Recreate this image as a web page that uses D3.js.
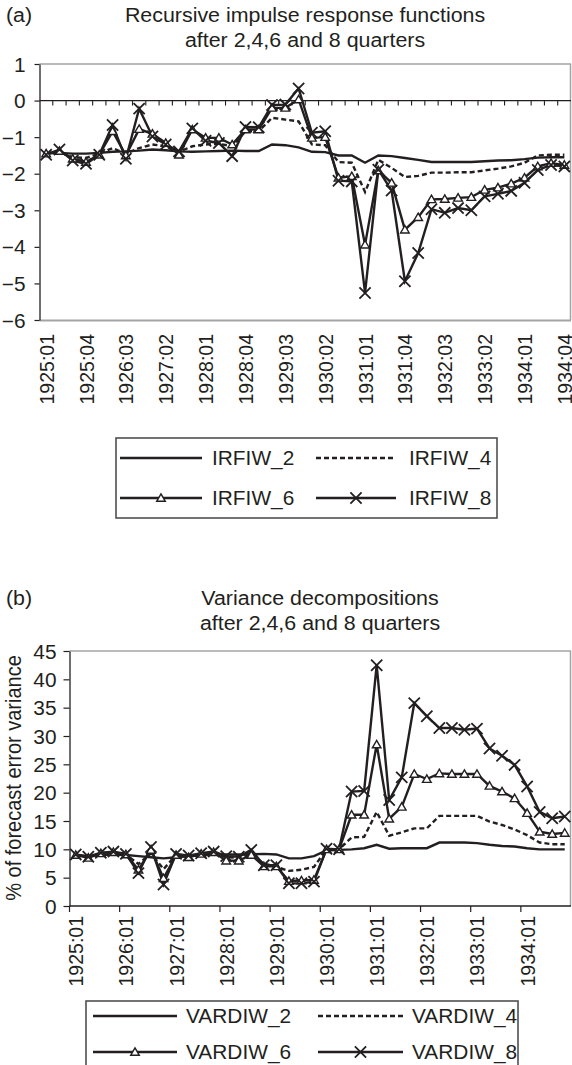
<!DOCTYPE html>
<html>
<head>
<meta charset="utf-8">
<script src="https://cdn.jsdelivr.net/npm/d3@7"></script>
<style>
  body { margin: 0; background: #fff; }
  text { font-family: "Liberation Sans", Arial, Helvetica, sans-serif; fill: #231f20; }
</style>
</head>
<body>
<svg id="chart" width="572" height="1065"></svg>
<script>
// Quarterly categories, 1925:01 – 1934:04
const quarters = [
  "1925:01","1925:02","1925:03","1925:04","1926:01","1926:02","1926:03","1926:04",
  "1927:01","1927:02","1927:03","1927:04","1928:01","1928:02","1928:03","1928:04",
  "1929:01","1929:02","1929:03","1929:04","1930:01","1930:02","1930:03","1930:04",
  "1931:01","1931:02","1931:03","1931:04","1932:01","1932:02","1932:03","1932:04",
  "1933:01","1933:02","1933:03","1933:04","1934:01","1934:02","1934:03","1934:04"
];

// Tick labels
const irfTickLabels = ["1925:01","1925:04","1926:03","1927:02","1928:01","1928:04","1929:03",
  "1930:02","1931:01","1931:04","1932:03","1933:02","1934:01","1934:04"];
const varTickLabels = ["1925:01","1926:01","1927:01","1928:01","1929:01","1930:01",
  "1931:01","1932:01","1933:01","1934:01"];
const irfYTicks = [-6, -5, -4, -3, -2, -1, 0, 1];
const varYTicks = [0, 5, 10, 15, 20, 25, 30, 35, 40, 45];

// (a) recursive impulse responses after 2, 4, 6 and 8 quarters
const irfiw2 = [-1.45,-1.43,-1.45,-1.45,-1.43,-1.40,-1.39,-1.37,-1.34,-1.36,-1.39,-1.40,-1.39,-1.38,-1.37,-1.38,-1.38,-1.20,-1.22,-1.28,
  -1.40,-1.41,-1.50,-1.50,-1.70,-1.50,-1.52,-1.57,-1.62,-1.68,-1.68,-1.68,-1.68,-1.66,-1.64,-1.63,-1.60,-1.56,-1.55,-1.55];
const irfiw4 = [-1.45,-1.40,-1.55,-1.57,-1.45,-1.30,-1.45,-1.30,-1.20,-1.25,-1.40,-1.25,-1.20,-1.18,-1.25,-0.84,-0.84,-0.47,-0.52,-0.57,
  -1.20,-1.22,-1.68,-1.70,-2.50,-1.62,-1.84,-2.09,-2.06,-1.97,-1.97,-1.96,-1.96,-1.91,-1.86,-1.80,-1.70,-1.50,-1.48,-1.48];
const irfiw6 = [-1.45,-1.38,-1.59,-1.68,-1.48,-0.84,-1.50,-0.78,-0.91,-1.16,-1.48,-0.79,-1.02,-1.02,-1.20,-0.79,-0.79,-0.20,-0.20,0.03,
  -1.02,-1.00,-2.11,-2.07,-3.94,-1.91,-2.25,-3.53,-3.19,-2.70,-2.69,-2.66,-2.64,-2.44,-2.38,-2.27,-2.11,-1.80,-1.71,-1.76];
const irfiw8 = [-1.48,-1.34,-1.64,-1.73,-1.48,-0.67,-1.59,-0.22,-0.98,-1.20,-1.39,-0.76,-1.10,-1.16,-1.52,-0.72,-0.73,-0.12,-0.11,0.33,
  -0.88,-0.84,-2.19,-2.21,-5.26,-1.89,-2.46,-4.94,-4.17,-2.97,-3.07,-2.94,-3.00,-2.62,-2.55,-2.47,-2.25,-1.90,-1.76,-1.80];

// (b) variance decompositions after 2, 4, 6 and 8 quarters (%)
const vardiw2 = [9.0,8.8,9.0,9.1,9.0,8.8,8.6,8.4,8.6,8.8,8.9,9.1,9.1,9.1,9.1,9.2,9.1,8.4,8.4,8.8,
  9.8,9.9,10.0,10.2,10.8,10.1,10.2,10.2,10.2,11.2,11.2,11.2,11.1,10.8,10.6,10.5,10.2,10.0,10.0,10.0];
const vardiw4 = [9.0,8.7,9.2,9.4,9.1,7.4,9.3,6.5,9.0,8.8,9.2,9.4,8.6,8.5,9.1,7.5,6.9,6.2,6.4,6.9,
  10.0,10.0,12.1,12.2,16.6,12.4,13.0,13.7,13.7,15.9,15.9,15.9,15.9,14.9,14.3,13.5,12.5,11.2,10.9,10.9];
const vardiw6 = [9.0,8.5,9.3,9.5,9.1,6.4,9.9,4.9,9.0,8.6,9.2,9.5,8.0,8.0,9.0,7.0,7.0,4.4,4.5,4.6,
  10.0,10.0,16.1,16.1,28.5,15.4,17.5,23.3,22.4,23.4,23.3,23.3,23.3,21.2,20.2,19.0,16.4,13.1,12.7,12.9];
const vardiw8 = [9.1,8.7,9.4,9.6,9.2,5.8,10.4,3.8,9.2,8.9,9.3,9.6,8.8,8.7,9.9,7.2,7.2,4.0,4.0,4.3,
  10.1,10.0,20.2,20.3,42.5,18.7,22.7,35.8,33.5,31.4,31.4,31.1,31.3,27.8,26.5,24.9,21.1,16.6,15.5,15.8];

const INK = "#231f20";
const FRAME = "#a3a3a3";
const FS = 19.5;     // font size
const SX = 1.07;     // horizontal text stretch

const svg = d3.select("#chart");
svg.append("rect").attr("width", 572).attr("height", 1065).attr("fill", "#fff");

function label(g, x, y, str, anchor, rotated, size) {
  return g.append("text")
    .attr("transform", `translate(${x},${y}) scale(${SX},1)` + (rotated ? " rotate(-90)" : ""))
    .attr("text-anchor", anchor || "start")
    .style("font-size", (size || FS) + "px")
    .text(str);
}

function xMarker(g, cx, cy, r) {
  g.append("path")
    .attr("d", `M${cx - r},${cy - r}L${cx + r},${cy + r}M${cx - r},${cy + r}L${cx + r},${cy - r}`)
    .attr("stroke", INK).attr("stroke-width", 1.8).attr("fill", "none");
}
const tri = d3.symbol().type(d3.symbolTriangle).size(32);
function triMarker(g, cx, cy) {
  g.append("path").attr("d", tri()).attr("transform", `translate(${cx},${cy + 0.8})`)
    .attr("fill", "#fff").attr("stroke", INK).attr("stroke-width", 1.4);
}

const styles = [
  { dash: null, marker: null },
  { dash: "5,3", marker: null },
  { dash: null, marker: "tri" },
  { dash: null, marker: "x" }
];

function drawSeries(g, x, y, seriesList) {
  const cx = q => x(q) + x.bandwidth() / 2;
  const line = d3.line().x((d, i) => cx(quarters[i])).y(d => y(d));
  seriesList.forEach((vals, k) => {
    g.append("path").datum(vals).attr("d", line)
      .attr("fill", "none").attr("stroke", INK).attr("stroke-width", 2.4)
      .attr("stroke-linejoin", "miter")
      .attr("stroke-dasharray", styles[k].dash);
  });
  seriesList.forEach((vals, k) => {
    if (styles[k].marker === "tri") vals.forEach((v, i) => triMarker(g, cx(quarters[i]), y(v)));
    if (styles[k].marker === "x") vals.forEach((v, i) => xMarker(g, cx(quarters[i]), y(v), 5.6));
  });
}

function drawLegend(g, box, rows, cols, names) {
  g.append("rect").attr("x", box.x).attr("y", box.y).attr("width", box.w).attr("height", box.h)
    .attr("fill", "#fff").attr("stroke", "#444").attr("stroke-width", 1.5);
  names.forEach((nm, k) => {
    const r = rows[Math.floor(k / 2)], c = cols[k % 2];
    g.append("line").attr("x1", c.x1).attr("x2", c.x2).attr("y1", r).attr("y2", r)
      .attr("stroke", INK).attr("stroke-width", 2.4).attr("stroke-dasharray", styles[k].dash);
    const mid = (c.x1 + c.x2) / 2;
    if (styles[k].marker === "tri") triMarker(g, mid, r);
    if (styles[k].marker === "x") xMarker(g, mid, r, 5.6);
    label(g, c.tx, r + 7, nm, "start");
  });
}

// ---------- Panel (a) ----------
const gA = svg.append("g");
const xA = d3.scaleBand().domain(quarters).range([39.5, 571]).paddingInner(0).paddingOuter(0);
const yA = d3.scaleLinear().domain([-6, 1]).range([320, 64]);

// plot frame
gA.append("line").attr("x1", 39.5).attr("x2", 571).attr("y1", 64).attr("y2", 64).attr("stroke", FRAME).attr("stroke-width", 1.5);
gA.append("line").attr("x1", 570.5).attr("x2", 570.5).attr("y1", 64).attr("y2", 320).attr("stroke", FRAME).attr("stroke-width", 1.5);
gA.append("line").attr("x1", 39.5).attr("x2", 571).attr("y1", 320.5).attr("y2", 320.5).attr("stroke", FRAME).attr("stroke-width", 2.2);

// value axis
const axA = gA.append("g").attr("transform", "translate(39.5,0)")
  .call(d3.axisLeft(yA).tickValues(irfYTicks).tickSize(5).tickSizeOuter(0).tickFormat(d3.format("d")));
axA.select(".domain").attr("stroke", INK).attr("stroke-width", 1.3);
axA.selectAll(".tick line").attr("stroke", INK).attr("stroke-width", 1.2);
axA.selectAll(".tick text").attr("x", null).attr("dy", null)
  .attr("transform", `translate(-14,7) scale(${SX},1)`)
  .attr("fill", INK).style("font-size", FS + "px").style("font-family", null);

// category axis along zero with boundary ticks
const zeroY = yA(0);
gA.append("line").attr("x1", 39.5).attr("x2", 571).attr("y1", zeroY).attr("y2", zeroY).attr("stroke", INK).attr("stroke-width", 1.2);
gA.selectAll(".btick").data(quarters.slice(1)).join("line").attr("class", "btick")
  .attr("x1", d => xA(d)).attr("x2", d => xA(d)).attr("y1", zeroY).attr("y2", zeroY + 5)
  .attr("stroke", INK).attr("stroke-width", 1.1);

// category labels
const labA = gA.append("g").attr("transform", "translate(0,320)")
  .call(d3.axisBottom(xA).tickValues(irfTickLabels).tickSize(0));
labA.select(".domain").remove();
labA.selectAll(".tick text").attr("y", null).attr("dy", "0.36em").attr("text-anchor", "end")
  .attr("transform", `translate(0,14) scale(${SX},1) rotate(-90)`)
  .attr("fill", INK).style("font-size", FS + "px").style("font-family", null);

drawSeries(gA, xA, yA, [irfiw2, irfiw4, irfiw6, irfiw8]);

label(gA, 6, 22, "(a)", "start", false, 20);
label(gA, 305, 22, "Recursive impulse response functions", "middle", false, 20);
label(gA, 305, 47, "after 2,4,6 and 8 quarters", "middle", false, 20);

drawLegend(gA, { x: 116, y: 438, w: 381, h: 80 }, [458, 498],
  [{ x1: 120, x2: 202, tx: 212 }, { x1: 316, x2: 396, tx: 409 }],
  ["IRFIW_2", "IRFIW_4", "IRFIW_6", "IRFIW_8"]);

// ---------- Panel (b) ----------
const gB = svg.append("g");
const xB = d3.scaleBand().domain(quarters).range([69.5, 571]).paddingInner(0).paddingOuter(0);
const yB = d3.scaleLinear().domain([0, 45]).range([906, 651]);

gB.append("line").attr("x1", 69.5).attr("x2", 571).attr("y1", 651).attr("y2", 651).attr("stroke", FRAME).attr("stroke-width", 1.5);
gB.append("line").attr("x1", 570.5).attr("x2", 570.5).attr("y1", 651).attr("y2", 906).attr("stroke", FRAME).attr("stroke-width", 1.5);

const axB = gB.append("g").attr("transform", "translate(69.5,0)")
  .call(d3.axisLeft(yB).tickValues(varYTicks).tickSize(6).tickSizeOuter(0).tickFormat(d3.format("d")));
axB.select(".domain").attr("stroke", INK).attr("stroke-width", 1.3);
axB.selectAll(".tick line").attr("stroke", INK).attr("stroke-width", 1.2);
axB.selectAll(".tick text").attr("x", null).attr("dy", null)
  .attr("transform", `translate(-13,7) scale(${SX},1)`)
  .attr("fill", INK).style("font-size", FS + "px").style("font-family", null);

// bottom axis with ticks every four quarters
gB.append("line").attr("x1", 69.5).attr("x2", 571).attr("y1", 906).attr("y2", 906).attr("stroke", INK).attr("stroke-width", 1.3);
gB.selectAll(".btick").data(varTickLabels).join("line").attr("class", "btick")
  .attr("x1", d => xB(d)).attr("x2", d => xB(d)).attr("y1", 906).attr("y2", 912)
  .attr("stroke", INK).attr("stroke-width", 1.2);
const labB = gB.append("g").attr("transform", "translate(0,906)")
  .call(d3.axisBottom(xB).tickValues(varTickLabels).tickSize(0));
labB.select(".domain").remove();
labB.selectAll(".tick text").attr("y", null).attr("dy", "0.36em").attr("text-anchor", "end")
  .attr("transform", `translate(0,10) scale(${SX},1) rotate(-90)`)
  .attr("fill", INK).style("font-size", FS + "px").style("font-family", null);

drawSeries(gB, xB, yB, [vardiw2, vardiw4, vardiw6, vardiw8]);

label(gB, 6, 605, "(b)", "start", false, 20);
label(gB, 320, 605, "Variance decompositions", "middle", false, 20);
label(gB, 320, 630, "after 2,4,6 and 8 quarters", "middle", false, 20);
label(gB, 21, 778, "% of forecast error variance", "middle", true, 20);

drawLegend(gB, { x: 86, y: 1001, w: 432, h: 80 }, [1016, 1052],
  [{ x1: 93, x2: 177, tx: 186 }, { x1: 318, x2: 403, tx: 412 }],
  ["VARDIW_2", "VARDIW_4", "VARDIW_6", "VARDIW_8"]);
</script>
</body>
</html>
